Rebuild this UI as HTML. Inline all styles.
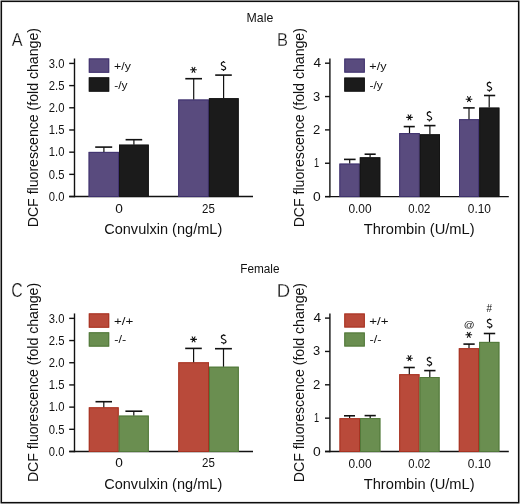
<!DOCTYPE html><html><head><meta charset="utf-8"><style>html,body{margin:0;padding:0;background:#fff;overflow:hidden}svg{display:block;will-change:transform}</style></head><body>
<svg width="520" height="504" viewBox="0 0 520 504" font-family='"Liberation Sans", sans-serif' fill="#111">
<rect x="0" y="0" width="520" height="504" fill="#8a8a8a"/>
<rect x="0" y="0" width="1" height="1" fill="#c8c8c8"/><rect x="519" y="0" width="1" height="1" fill="#c8c8c8"/><rect x="0" y="503" width="1" height="1" fill="#c8c8c8"/><rect x="519" y="503" width="1" height="1" fill="#c8c8c8"/>
<rect x="1.5" y="1.5" width="517" height="501" fill="#fff" stroke="#0d0d0d" stroke-width="1"/>
<rect x="2.5" y="2.5" width="515" height="499" fill="none" stroke="#e8e8e8" stroke-width="1"/>
<line x1="74.50" y1="58.50" x2="74.50" y2="197.25" stroke="#111" stroke-width="1.4"/>
<line x1="69.20" y1="196.55" x2="253.00" y2="196.55" stroke="#111" stroke-width="1.4"/>
<line x1="69.20" y1="196.55" x2="74.50" y2="196.55" stroke="#111" stroke-width="1.4"/>
<line x1="69.20" y1="174.36" x2="74.50" y2="174.36" stroke="#111" stroke-width="1.4"/>
<line x1="69.20" y1="152.17" x2="74.50" y2="152.17" stroke="#111" stroke-width="1.4"/>
<line x1="69.20" y1="129.98" x2="74.50" y2="129.98" stroke="#111" stroke-width="1.4"/>
<line x1="69.20" y1="107.79" x2="74.50" y2="107.79" stroke="#111" stroke-width="1.4"/>
<line x1="69.20" y1="85.60" x2="74.50" y2="85.60" stroke="#111" stroke-width="1.4"/>
<line x1="69.20" y1="63.41" x2="74.50" y2="63.41" stroke="#111" stroke-width="1.4"/>
<rect x="88.60" y="151.90" width="30.40" height="44.65" fill="#594b7e"/>
<rect x="89.10" y="152.40" width="29.40" height="44.15" fill="none" stroke="#413370" stroke-width="1.0"/>
<rect x="119.00" y="144.65" width="29.80" height="51.90" fill="#1b1b1b"/>
<rect x="119.50" y="145.15" width="28.80" height="51.40" fill="none" stroke="#141414" stroke-width="1.0"/>
<rect x="178.20" y="99.50" width="30.70" height="97.05" fill="#594b7e"/>
<rect x="178.70" y="100.00" width="29.70" height="96.55" fill="none" stroke="#413370" stroke-width="1.0"/>
<rect x="208.90" y="98.20" width="29.80" height="98.35" fill="#1b1b1b"/>
<rect x="209.40" y="98.70" width="28.80" height="97.85" fill="none" stroke="#141414" stroke-width="1.0"/>
<line x1="103.90" y1="147.10" x2="103.90" y2="151.90" stroke="#111" stroke-width="1.2"/>
<line x1="95.20" y1="147.10" x2="112.20" y2="147.10" stroke="#111" stroke-width="1.6"/>
<line x1="133.90" y1="139.70" x2="133.90" y2="144.65" stroke="#111" stroke-width="1.2"/>
<line x1="125.60" y1="139.70" x2="142.20" y2="139.70" stroke="#111" stroke-width="1.6"/>
<line x1="193.70" y1="78.70" x2="193.70" y2="99.50" stroke="#111" stroke-width="1.2"/>
<line x1="185.30" y1="78.70" x2="202.00" y2="78.70" stroke="#111" stroke-width="1.6"/>
<line x1="223.60" y1="75.10" x2="223.60" y2="98.20" stroke="#111" stroke-width="1.2"/>
<line x1="215.20" y1="75.10" x2="231.80" y2="75.10" stroke="#111" stroke-width="1.6"/>
<path d="M190.20,69.80L196.80,69.80M191.85,66.94L195.15,72.66M195.15,66.94L191.85,72.66" stroke="#111" stroke-width="1.05" fill="none"/>
<path d="M225.12,62.59C224.63,62.09 224.04,62.00 223.45,62.00C222.18,62.00 221.34,62.99 221.34,64.18C221.34,65.38 222.32,65.68 223.45,66.08C224.68,66.57 225.66,67.07 225.66,67.97C225.66,69.06 224.63,69.76 223.45,69.76C222.62,69.76 221.78,69.46 221.25,68.86M223.45,61.10L223.45,62.09M223.45,69.66L223.45,71.05" stroke="#111" stroke-width="1.2" fill="none"/>
<rect x="88.80" y="58.45" width="20.40" height="14.30" fill="#594b7e"/>
<rect x="89.30" y="58.95" width="19.40" height="13.30" fill="none" stroke="#413370" stroke-width="1.0"/>
<rect x="88.80" y="77.35" width="20.40" height="14.30" fill="#1b1b1b"/>
<rect x="89.30" y="77.85" width="19.40" height="13.30" fill="none" stroke="#141414" stroke-width="1.0"/>
<line x1="74.50" y1="313.45" x2="74.50" y2="452.20" stroke="#111" stroke-width="1.4"/>
<line x1="69.20" y1="451.50" x2="253.00" y2="451.50" stroke="#111" stroke-width="1.4"/>
<line x1="69.20" y1="451.50" x2="74.50" y2="451.50" stroke="#111" stroke-width="1.4"/>
<line x1="69.20" y1="429.31" x2="74.50" y2="429.31" stroke="#111" stroke-width="1.4"/>
<line x1="69.20" y1="407.12" x2="74.50" y2="407.12" stroke="#111" stroke-width="1.4"/>
<line x1="69.20" y1="384.93" x2="74.50" y2="384.93" stroke="#111" stroke-width="1.4"/>
<line x1="69.20" y1="362.74" x2="74.50" y2="362.74" stroke="#111" stroke-width="1.4"/>
<line x1="69.20" y1="340.55" x2="74.50" y2="340.55" stroke="#111" stroke-width="1.4"/>
<line x1="69.20" y1="318.36" x2="74.50" y2="318.36" stroke="#111" stroke-width="1.4"/>
<rect x="88.80" y="407.30" width="29.90" height="44.20" fill="#b94a3a"/>
<rect x="89.30" y="407.80" width="28.90" height="43.70" fill="none" stroke="#a73322" stroke-width="1.0"/>
<rect x="118.70" y="415.60" width="30.10" height="35.90" fill="#6a8e50"/>
<rect x="119.20" y="416.10" width="29.10" height="35.40" fill="none" stroke="#52793a" stroke-width="1.0"/>
<rect x="178.30" y="362.30" width="30.70" height="89.20" fill="#b94a3a"/>
<rect x="178.80" y="362.80" width="29.70" height="88.70" fill="none" stroke="#a73322" stroke-width="1.0"/>
<rect x="209.00" y="366.70" width="29.80" height="84.80" fill="#6a8e50"/>
<rect x="209.50" y="367.20" width="28.80" height="84.30" fill="none" stroke="#52793a" stroke-width="1.0"/>
<line x1="103.80" y1="401.70" x2="103.80" y2="407.30" stroke="#111" stroke-width="1.2"/>
<line x1="95.50" y1="401.70" x2="112.00" y2="401.70" stroke="#111" stroke-width="1.6"/>
<line x1="133.80" y1="411.20" x2="133.80" y2="415.60" stroke="#111" stroke-width="1.2"/>
<line x1="125.40" y1="411.20" x2="142.30" y2="411.20" stroke="#111" stroke-width="1.6"/>
<line x1="193.60" y1="348.40" x2="193.60" y2="362.30" stroke="#111" stroke-width="1.2"/>
<line x1="185.20" y1="348.40" x2="201.80" y2="348.40" stroke="#111" stroke-width="1.6"/>
<line x1="223.50" y1="348.70" x2="223.50" y2="366.70" stroke="#111" stroke-width="1.2"/>
<line x1="215.00" y1="348.70" x2="231.90" y2="348.70" stroke="#111" stroke-width="1.6"/>
<path d="M190.30,339.35L196.90,339.35M191.95,336.49L195.25,342.21M195.25,336.49L191.95,342.21" stroke="#111" stroke-width="1.05" fill="none"/>
<path d="M225.45,335.76C224.92,335.25 224.29,335.15 223.65,335.15C222.27,335.15 221.37,336.16 221.37,337.37C221.37,338.57 222.43,338.87 223.65,339.27C224.98,339.78 226.04,340.28 226.04,341.18C226.04,342.29 224.92,342.99 223.65,342.99C222.75,342.99 221.85,342.69 221.26,342.09M223.65,334.25L223.65,335.25M223.65,342.89L223.65,344.30" stroke="#111" stroke-width="1.2" fill="none"/>
<rect x="88.80" y="313.40" width="20.40" height="14.30" fill="#b94a3a"/>
<rect x="89.30" y="313.90" width="19.40" height="13.30" fill="none" stroke="#a73322" stroke-width="1.0"/>
<rect x="88.80" y="332.30" width="20.40" height="14.30" fill="#6a8e50"/>
<rect x="89.30" y="332.80" width="19.40" height="13.30" fill="none" stroke="#52793a" stroke-width="1.0"/>
<line x1="329.90" y1="58.60" x2="329.90" y2="197.30" stroke="#111" stroke-width="1.4"/>
<line x1="325.00" y1="196.60" x2="508.80" y2="196.60" stroke="#111" stroke-width="1.4"/>
<line x1="325.00" y1="196.60" x2="329.90" y2="196.60" stroke="#111" stroke-width="1.4"/>
<line x1="325.00" y1="163.25" x2="329.90" y2="163.25" stroke="#111" stroke-width="1.4"/>
<line x1="325.00" y1="129.90" x2="329.90" y2="129.90" stroke="#111" stroke-width="1.4"/>
<line x1="325.00" y1="96.55" x2="329.90" y2="96.55" stroke="#111" stroke-width="1.4"/>
<line x1="325.00" y1="63.20" x2="329.90" y2="63.20" stroke="#111" stroke-width="1.4"/>
<rect x="339.40" y="163.60" width="20.40" height="33.00" fill="#594b7e"/>
<rect x="339.90" y="164.10" width="19.40" height="32.50" fill="none" stroke="#413370" stroke-width="1.0"/>
<rect x="359.80" y="157.30" width="20.50" height="39.30" fill="#1b1b1b"/>
<rect x="360.30" y="157.80" width="19.50" height="38.80" fill="none" stroke="#141414" stroke-width="1.0"/>
<rect x="399.20" y="133.10" width="20.60" height="63.50" fill="#594b7e"/>
<rect x="399.70" y="133.60" width="19.60" height="63.00" fill="none" stroke="#413370" stroke-width="1.0"/>
<rect x="419.80" y="134.30" width="20.20" height="62.30" fill="#1b1b1b"/>
<rect x="420.30" y="134.80" width="19.20" height="61.80" fill="none" stroke="#141414" stroke-width="1.0"/>
<rect x="459.00" y="119.20" width="20.10" height="77.40" fill="#594b7e"/>
<rect x="459.50" y="119.70" width="19.10" height="76.90" fill="none" stroke="#413370" stroke-width="1.0"/>
<rect x="479.20" y="107.60" width="20.20" height="89.00" fill="#1b1b1b"/>
<rect x="479.70" y="108.10" width="19.20" height="88.50" fill="none" stroke="#141414" stroke-width="1.0"/>
<line x1="349.70" y1="159.40" x2="349.70" y2="163.60" stroke="#111" stroke-width="1.2"/>
<line x1="344.00" y1="159.40" x2="355.60" y2="159.40" stroke="#111" stroke-width="1.6"/>
<line x1="370.10" y1="154.20" x2="370.10" y2="157.30" stroke="#111" stroke-width="1.2"/>
<line x1="364.60" y1="154.20" x2="375.70" y2="154.20" stroke="#111" stroke-width="1.6"/>
<line x1="409.50" y1="126.60" x2="409.50" y2="133.10" stroke="#111" stroke-width="1.2"/>
<line x1="403.70" y1="126.60" x2="414.80" y2="126.60" stroke="#111" stroke-width="1.6"/>
<line x1="429.90" y1="125.60" x2="429.90" y2="134.30" stroke="#111" stroke-width="1.2"/>
<line x1="424.20" y1="125.60" x2="435.50" y2="125.60" stroke="#111" stroke-width="1.6"/>
<line x1="469.00" y1="107.90" x2="469.00" y2="119.20" stroke="#111" stroke-width="1.2"/>
<line x1="463.20" y1="107.90" x2="474.70" y2="107.90" stroke="#111" stroke-width="1.6"/>
<line x1="489.20" y1="95.50" x2="489.20" y2="107.60" stroke="#111" stroke-width="1.2"/>
<line x1="484.00" y1="95.50" x2="495.20" y2="95.50" stroke="#111" stroke-width="1.6"/>
<path d="M406.20,117.35L412.80,117.35M407.85,114.49L411.15,120.21M411.15,114.49L407.85,120.21" stroke="#111" stroke-width="1.05" fill="none"/>
<path d="M431.10,112.56C430.60,112.04 430.00,111.94 429.40,111.94C428.10,111.94 427.25,112.98 427.25,114.22C427.25,115.47 428.25,115.78 429.40,116.20C430.65,116.72 431.65,117.24 431.65,118.18C431.65,119.32 430.60,120.05 429.40,120.05C428.55,120.05 427.70,119.74 427.15,119.11M429.40,111.00L429.40,112.04M429.40,119.94L429.40,121.40" stroke="#111" stroke-width="1.2" fill="none"/>
<path d="M465.70,99.15L472.30,99.15M467.35,96.29L470.65,102.01M470.65,96.29L467.35,102.01" stroke="#111" stroke-width="1.05" fill="none"/>
<path d="M491.10,83.05C490.60,82.53 490.00,82.43 489.40,82.43C488.10,82.43 487.25,83.46 487.25,84.69C487.25,85.93 488.25,86.24 489.40,86.65C490.65,87.16 491.65,87.68 491.65,88.61C491.65,89.74 490.60,90.46 489.40,90.46C488.55,90.46 487.70,90.15 487.15,89.53M489.40,81.50L489.40,82.53M489.40,90.36L489.40,91.80" stroke="#111" stroke-width="1.2" fill="none"/>
<rect x="344.30" y="58.60" width="20.50" height="14.00" fill="#594b7e"/>
<rect x="344.80" y="59.10" width="19.50" height="13.00" fill="none" stroke="#413370" stroke-width="1.0"/>
<rect x="344.30" y="77.60" width="20.50" height="14.00" fill="#1b1b1b"/>
<rect x="344.80" y="78.10" width="19.50" height="13.00" fill="none" stroke="#141414" stroke-width="1.0"/>
<line x1="329.90" y1="313.50" x2="329.90" y2="452.20" stroke="#111" stroke-width="1.4"/>
<line x1="325.00" y1="451.50" x2="508.80" y2="451.50" stroke="#111" stroke-width="1.4"/>
<line x1="325.00" y1="451.50" x2="329.90" y2="451.50" stroke="#111" stroke-width="1.4"/>
<line x1="325.00" y1="418.15" x2="329.90" y2="418.15" stroke="#111" stroke-width="1.4"/>
<line x1="325.00" y1="384.80" x2="329.90" y2="384.80" stroke="#111" stroke-width="1.4"/>
<line x1="325.00" y1="351.45" x2="329.90" y2="351.45" stroke="#111" stroke-width="1.4"/>
<line x1="325.00" y1="318.10" x2="329.90" y2="318.10" stroke="#111" stroke-width="1.4"/>
<rect x="339.50" y="418.20" width="20.50" height="33.30" fill="#b94a3a"/>
<rect x="340.00" y="418.70" width="19.50" height="32.80" fill="none" stroke="#a73322" stroke-width="1.0"/>
<rect x="360.00" y="418.10" width="20.40" height="33.40" fill="#6a8e50"/>
<rect x="360.50" y="418.60" width="19.40" height="32.90" fill="none" stroke="#52793a" stroke-width="1.0"/>
<rect x="399.20" y="374.20" width="20.30" height="77.30" fill="#b94a3a"/>
<rect x="399.70" y="374.70" width="19.30" height="76.80" fill="none" stroke="#a73322" stroke-width="1.0"/>
<rect x="419.50" y="377.00" width="20.10" height="74.50" fill="#6a8e50"/>
<rect x="420.00" y="377.50" width="19.10" height="74.00" fill="none" stroke="#52793a" stroke-width="1.0"/>
<rect x="458.80" y="348.20" width="20.30" height="103.30" fill="#b94a3a"/>
<rect x="459.30" y="348.70" width="19.30" height="102.80" fill="none" stroke="#a73322" stroke-width="1.0"/>
<rect x="479.10" y="341.90" width="20.30" height="109.60" fill="#6a8e50"/>
<rect x="479.60" y="342.40" width="19.30" height="109.10" fill="none" stroke="#52793a" stroke-width="1.0"/>
<line x1="349.60" y1="415.80" x2="349.60" y2="418.00" stroke="#111" stroke-width="1.2"/>
<line x1="344.00" y1="415.80" x2="355.00" y2="415.80" stroke="#111" stroke-width="1.6"/>
<line x1="370.20" y1="415.60" x2="370.20" y2="417.90" stroke="#111" stroke-width="1.2"/>
<line x1="364.60" y1="415.60" x2="375.80" y2="415.60" stroke="#111" stroke-width="1.6"/>
<line x1="409.30" y1="367.50" x2="409.30" y2="374.20" stroke="#111" stroke-width="1.2"/>
<line x1="403.70" y1="367.50" x2="414.80" y2="367.50" stroke="#111" stroke-width="1.6"/>
<line x1="429.80" y1="370.60" x2="429.80" y2="377.00" stroke="#111" stroke-width="1.2"/>
<line x1="424.20" y1="370.60" x2="435.50" y2="370.60" stroke="#111" stroke-width="1.6"/>
<line x1="469.00" y1="344.10" x2="469.00" y2="348.00" stroke="#111" stroke-width="1.2"/>
<line x1="463.40" y1="344.10" x2="474.70" y2="344.10" stroke="#111" stroke-width="1.6"/>
<line x1="489.50" y1="333.50" x2="489.50" y2="341.90" stroke="#111" stroke-width="1.2"/>
<line x1="483.80" y1="333.50" x2="495.20" y2="333.50" stroke="#111" stroke-width="1.6"/>
<path d="M406.20,358.20L412.80,358.20M407.85,355.34L411.15,361.06M411.15,355.34L407.85,361.06" stroke="#111" stroke-width="1.05" fill="none"/>
<path d="M431.10,358.25C430.60,357.77 430.00,357.67 429.40,357.67C428.10,357.67 427.25,358.64 427.25,359.81C427.25,360.97 428.25,361.26 429.40,361.65C430.65,362.13 431.65,362.62 431.65,363.49C431.65,364.56 430.60,365.24 429.40,365.24C428.55,365.24 427.70,364.95 427.15,364.37M429.40,356.80L429.40,357.77M429.40,365.14L429.40,366.50" stroke="#111" stroke-width="1.2" fill="none"/>
<path d="M465.50,334.80L472.10,334.80M467.15,331.94L470.45,337.66M470.45,331.94L467.15,337.66" stroke="#111" stroke-width="1.05" fill="none"/>
<path d="M491.37,320.00C490.85,319.50 490.22,319.40 489.60,319.40C488.25,319.40 487.36,320.40 487.36,321.60C487.36,322.80 488.40,323.10 489.60,323.50C490.90,324.00 491.94,324.50 491.94,325.40C491.94,326.50 490.85,327.20 489.60,327.20C488.72,327.20 487.83,326.90 487.26,326.30M489.60,318.50L489.60,319.50M489.60,327.10L489.60,328.50" stroke="#111" stroke-width="1.2" fill="none"/>
<rect x="344.30" y="313.50" width="20.50" height="14.00" fill="#b94a3a"/>
<rect x="344.80" y="314.00" width="19.50" height="13.00" fill="none" stroke="#a73322" stroke-width="1.0"/>
<rect x="344.30" y="332.50" width="20.50" height="14.00" fill="#6a8e50"/>
<rect x="344.80" y="333.00" width="19.50" height="13.00" fill="none" stroke="#52793a" stroke-width="1.0"/>
<text transform="translate(246.57,21.90) scale(0.9947,1)" font-size="12.41">Male</text>
<text transform="translate(240.22,272.59) scale(0.9290,1)" font-size="12.68">Female</text>
<text transform="translate(11.74,46.42) scale(0.8805,1)" font-size="18.43" stroke="#fff" stroke-width="0.25">A</text>
<text transform="translate(276.91,46.42) scale(0.8900,1)" font-size="18.43" stroke="#fff" stroke-width="0.25">B</text>
<text transform="translate(11.28,297.46) scale(0.8175,1)" font-size="19.41" stroke="#fff" stroke-width="0.25">C</text>
<text transform="translate(276.73,297.02) scale(1.0200,1)" font-size="18.14" stroke="#fff" stroke-width="0.25">D</text>
<text transform="translate(37.90,226.10) rotate(-90) scale(0.9168,1) translate(-1.28,0)" font-size="15.40">DCF fluorescence (fold change)</text>
<text transform="translate(304.00,226.20) rotate(-90) scale(0.9172,1) translate(-1.28,0)" font-size="15.40">DCF fluorescence (fold change)</text>
<text transform="translate(37.80,480.90) rotate(-90) scale(0.9168,1) translate(-1.28,0)" font-size="15.40">DCF fluorescence (fold change)</text>
<text transform="translate(304.00,481.00) rotate(-90) scale(0.9168,1) translate(-1.28,0)" font-size="15.40">DCF fluorescence (fold change)</text>
<text transform="translate(48.83,200.75) scale(0.9210,1)" font-size="12.20">0.0</text>
<text transform="translate(48.83,178.56) scale(0.9210,1)" font-size="12.20">0.5</text>
<text transform="translate(48.75,156.37) scale(0.9257,1)" font-size="12.20">1.0</text>
<text transform="translate(48.75,134.18) scale(0.9257,1)" font-size="12.20">1.5</text>
<text transform="translate(48.73,111.99) scale(0.9269,1)" font-size="12.20">2.0</text>
<text transform="translate(48.73,89.80) scale(0.9269,1)" font-size="12.20">2.5</text>
<text transform="translate(48.83,67.61) scale(0.9210,1)" font-size="12.20">3.0</text>
<text transform="translate(115.23,212.50) scale(1.0860,1)" font-size="12.60">0</text>
<text transform="translate(202.02,212.50) scale(0.9133,1)" font-size="12.60">25</text>
<text transform="translate(114.08,69.50) scale(1.0674,1)" font-size="11.60">+/y</text>
<text transform="translate(114.20,88.50) scale(1.0345,1)" font-size="11.60">-/y</text>
<text transform="translate(104.17,233.70) scale(0.9518,1)" font-size="15.30">Convulxin (ng/mL)</text>
<text transform="translate(48.83,455.70) scale(0.9210,1)" font-size="12.20">0.0</text>
<text transform="translate(48.83,433.51) scale(0.9210,1)" font-size="12.20">0.5</text>
<text transform="translate(48.75,411.32) scale(0.9257,1)" font-size="12.20">1.0</text>
<text transform="translate(48.75,389.13) scale(0.9257,1)" font-size="12.20">1.5</text>
<text transform="translate(48.73,366.94) scale(0.9269,1)" font-size="12.20">2.0</text>
<text transform="translate(48.73,344.75) scale(0.9269,1)" font-size="12.20">2.5</text>
<text transform="translate(48.83,322.56) scale(0.9210,1)" font-size="12.20">3.0</text>
<text transform="translate(115.23,467.45) scale(1.0860,1)" font-size="12.60">0</text>
<text transform="translate(202.02,467.45) scale(0.9133,1)" font-size="12.60">25</text>
<text transform="translate(114.03,324.55) scale(1.1494,1)" font-size="11.60">+/+</text>
<text transform="translate(114.17,343.45) scale(1.0947,1)" font-size="11.60">-/-</text>
<text transform="translate(104.17,488.65) scale(0.9518,1)" font-size="15.30">Convulxin (ng/mL)</text>
<text transform="translate(313.02,200.60) scale(1.1389,1)" font-size="12.20">0</text>
<text transform="translate(314.01,167.25) scale(0.7566,1)" font-size="12.20">1</text>
<text transform="translate(312.95,133.90) scale(1.0730,1)" font-size="12.20">2</text>
<text transform="translate(313.06,100.55) scale(1.0539,1)" font-size="12.20">3</text>
<text transform="translate(313.56,67.20) scale(1.1148,1)" font-size="12.20">4</text>
<text transform="translate(348.40,212.60) scale(0.9439,1)" font-size="12.60">0.00</text>
<text transform="translate(408.33,212.60) scale(0.9009,1)" font-size="12.60">0.02</text>
<text transform="translate(467.80,212.60) scale(0.9439,1)" font-size="12.60">0.10</text>
<text transform="translate(369.27,69.50) scale(1.0872,1)" font-size="11.60">+/y</text>
<text transform="translate(369.40,88.50) scale(1.0345,1)" font-size="11.60">-/y</text>
<text transform="translate(363.73,233.70) scale(0.9594,1)" font-size="15.30">Thrombin (U/mL)</text>
<text transform="translate(313.02,455.50) scale(1.1389,1)" font-size="12.20">0</text>
<text transform="translate(314.01,422.15) scale(0.7566,1)" font-size="12.20">1</text>
<text transform="translate(312.95,388.80) scale(1.0730,1)" font-size="12.20">2</text>
<text transform="translate(313.06,355.45) scale(1.0539,1)" font-size="12.20">3</text>
<text transform="translate(313.56,322.10) scale(1.1148,1)" font-size="12.20">4</text>
<text transform="translate(348.40,467.50) scale(0.9439,1)" font-size="12.60">0.00</text>
<text transform="translate(408.33,467.50) scale(0.9009,1)" font-size="12.60">0.02</text>
<text transform="translate(467.80,467.50) scale(0.9439,1)" font-size="12.60">0.10</text>
<text transform="translate(463.80,327.86) scale(1.1315,1)" font-size="9.46">@</text>
<text transform="translate(486.42,312.10) scale(0.8515,1)" font-size="11.71">#</text>
<text transform="translate(369.33,324.50) scale(1.1494,1)" font-size="11.60">+/+</text>
<text transform="translate(369.47,343.40) scale(1.0947,1)" font-size="11.60">-/-</text>
<text transform="translate(363.73,488.60) scale(0.9594,1)" font-size="15.30">Thrombin (U/mL)</text>
</svg></body></html>
